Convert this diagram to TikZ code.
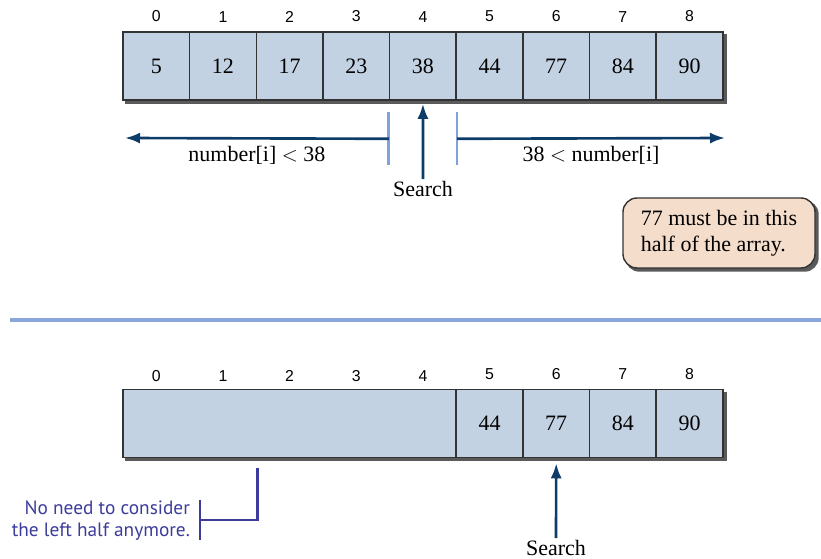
\documentclass[tikz,border=0pt]{standalone}
\usepackage{fontspec}
\setmainfont{Liberation Serif}
\newfontfamily\idxfont{Liberation Sans}
\newfontfamily\notefont{PT Sans}
\usetikzlibrary{arrows.meta, positioning, calc, backgrounds}
\definecolor{cellfill}{HTML}{C3D2E2}
\definecolor{cellborder}{HTML}{333333}
\definecolor{shadowgray}{HTML}{5A5A5A}
\definecolor{navy}{HTML}{0D3C68}
\definecolor{tickblue}{HTML}{7FA3D8}
\definecolor{rulefill}{HTML}{8AA6D8}
\definecolor{calloutfill}{HTML}{F5DDCB}
\definecolor{notecolor}{HTML}{3C3C9C}
\tikzset{
  cell/.style={rectangle, draw=cellborder, fill=cellfill, line width=0.9pt,
               minimum width=1.333cm, minimum height=1.36cm, inner sep=0pt,
               font=\fontsize{12.5}{15}\selectfont},
  idxlabel/.style={font=\idxfont\fontsize{9}{10}\selectfont, inner sep=1pt},
  txtlabel/.style={font=\fontsize{12.5}{15}\selectfont, inner sep=1pt},
  flow/.style={-{Latex[length=3mm, width=2.2mm]}, line width=1.5pt, draw=navy},
  tick/.style={line width=1.6pt, draw=tickblue},
  callout/.style={rectangle, rounded corners=8pt, draw=cellborder, fill=calloutfill,
                  line width=0.8pt, minimum width=3.84cm, minimum height=1.4cm,
                  align=left, font=\fontsize{12.5}{15}\selectfont, inner sep=4pt},
  note/.style={font=\notefont\fontsize{11}{12.5}\selectfont, text=notecolor,
               align=right, inner sep=1pt},
  bracket/.style={line width=1.3pt, draw=notecolor},
}
\def\cw{1.333}

\begin{document}
\begin{tikzpicture}
\useasboundingbox (0,0) rectangle (16.42,-11.18);

% Top array: nine cells with their indices above
\foreach \v [count=\i from 0] in {5,12,17,23,38,44,77,84,90} {
  \node[cell] (t\i) at ({2.46+\cw*\i+\cw/2},-1.32) {\v};
  \node[idxlabel, above=4pt of t\i] {\i};
}
\begin{scope}[on background layer]
  \fill[shadowgray] ($(t0.south west)+(0.06,-0.06)$) rectangle ($(t8.north east)+(0.06,-0.06)$);
\end{scope}

% Split around the middle cell
\coordinate (ltick) at ($(t4.south west)+(0,-0.76)$);
\coordinate (rtick) at ($(t4.south east)+(0,-0.76)$);
\draw[tick] ($(ltick)+(0,0.54)$) -- ($(ltick)+(0,-0.52)$);
\draw[tick] ($(rtick)+(0,0.54)$) -- ($(rtick)+(0,-0.52)$);
\coordinate (lend) at (2.5,-2.76);
\coordinate (rend) at (14.5,-2.76);
\draw[flow] (ltick) -- (lend);
\draw[flow] (rtick) -- (rend);
\node[txtlabel, below=3pt of $(ltick)!0.5!(lend)$] (lesslbl) {number[i] $<$ 38};
\node[txtlabel, below=3pt of $(rtick)!0.5!(rend)$] (morelbl) {38 $<$ number[i]};

\node[txtlabel] (search1) at (8.46,-3.78) {Search};
\draw[flow] (search1.north) -- ($(t4.south)+(0,-0.06)$);

% Callout
\node[callout] (hint) at (14.38,-4.66) {77 must be in this\\half of the array.};
\begin{scope}[on background layer]
  \fill[shadowgray, rounded corners=8pt] ($(hint.south west)+(0.06,-0.06)$) rectangle ($(hint.north east)+(0.06,-0.06)$);
\end{scope}

% Separator
\fill[rulefill] (0.2,-6.36) rectangle (16.42,-6.44);

% Bottom array: left half collapsed into one block
\node[cell, minimum width={5*\cw cm}] (blk) at ({2.46+2.5*\cw},-8.47) {};
\foreach \i in {0,...,4} {
  \node[idxlabel] at ({2.46+\cw*\i+\cw/2},-7.52) {\i};
}
\foreach \v [count=\i from 5] in {44,77,84,90} {
  \node[cell] (b\i) at ({2.46+\cw*\i+\cw/2},-8.47) {\v};
  \node[idxlabel, above=4pt of b\i] {\i};
}
\begin{scope}[on background layer]
  \fill[shadowgray] ($(blk.south west)+(0.06,-0.06)$) rectangle ($(b8.north east)+(0.06,-0.06)$);
\end{scope}

\node[txtlabel] (search2) at (11.12,-10.96) {Search};
\draw[flow] (search2.north) -- ($(b6.south)+(0,-0.1)$);

% Note on the dropped half
\coordinate (brtop) at (5.15,-9.36);
\coordinate (brknee) at (5.15,-10.4);
\coordinate (brbar) at (4.0,-10.4);
\draw[bracket] (brtop) -- (brknee) -- (brbar);
\draw[bracket] ($(brbar)+(0,0.4)$) -- ($(brbar)+(0,-0.4)$);
\node[note, anchor=east] (skipnote) at (3.84,-10.42) {No need to consider\\the left half anymore.};

\end{tikzpicture}
\end{document}
